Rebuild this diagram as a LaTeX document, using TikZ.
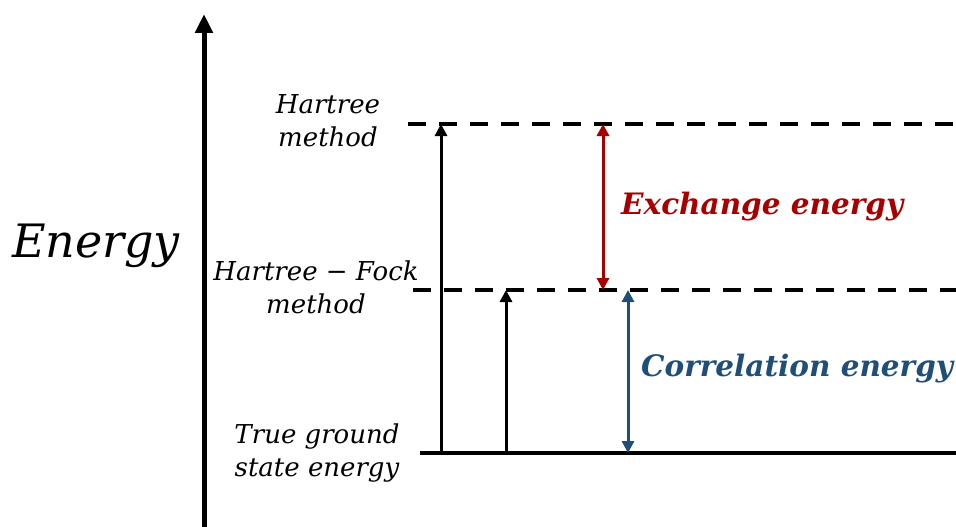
\documentclass[tikz,border=0pt]{standalone}
\usepackage{fontspec}
\setmainfont{DejaVu Serif}
\usetikzlibrary{arrows.meta}
\definecolor{exred}{RGB}{168,0,0}
\definecolor{corblue}{RGB}{31,78,121}
\tikzset{
  level/.style={line width=4pt, dash pattern=on 18pt off 13pt},
  ground/.style={line width=4pt},
  up/.style={line width=3pt, -{Triangle[width=12pt,length=12pt]}},
  both/.style={line width=3pt, {Triangle[width=12pt,length=12pt]}-{Triangle[width=12pt,length=12pt]}},
  lab/.style={font=\fontsize{26}{33}\selectfont\itshape, align=center, inner sep=0pt},
  big/.style={font=\fontsize{29.5}{34}\selectfont\bfseries\itshape, inner sep=0pt, anchor=west}
}
\begin{document}
\begin{tikzpicture}[x=1pt,y=-1pt]
\useasboundingbox (0,0) rectangle (956,527);
% axis
\coordinate (axb) at (204,527);
\coordinate (axt) at (204,14);
\draw[line width=5pt, -{Triangle[width=17pt,length=19pt]}] (axb) -- (axt);
\node[font=\fontsize{46}{54}\selectfont\itshape, inner sep=0pt] (energy) at (96,246) {Energy};
% levels
\coordinate (hl) at (408,124); \coordinate (hr) at (956,124);
\coordinate (fl) at (413,290); \coordinate (fr) at (956,290);
\coordinate (gl) at (420,453); \coordinate (gr) at (956,453);
\draw[level] (hl) -- (hr);
\draw[level] (fl) -- (fr);
\draw[ground] (gl) -- (gr);
% arrows
\coordinate (a1b) at (441,453); \coordinate (a1t) at (441,124);
\coordinate (a2b) at (506,453); \coordinate (a2t) at (506,290);
\draw[up] (a1b) -- (a1t);
\draw[up] (a2b) -- (a2t);
\coordinate (rt) at (603,124); \coordinate (rb) at (603,290);
\coordinate (bt) at (628,290); \coordinate (bb) at (628,453);
\draw[both, exred] (rt) -- (rb);
\draw[both, corblue] (bt) -- (bb);
% labels
\node[lab] (hm) at (328,121) {Hartree\\method};
\node[lab] (hfm) at (316,287) {Hartree − Fock\\method};
\node[lab] (tg) at (317,453) {True ground\\state energy};
\node[big, text=exred] (ex) at (621,207) {Exchange energy};
\node[big, text=corblue] (co) at (641,369) {Correlation energy};
\end{tikzpicture}
\end{document}
